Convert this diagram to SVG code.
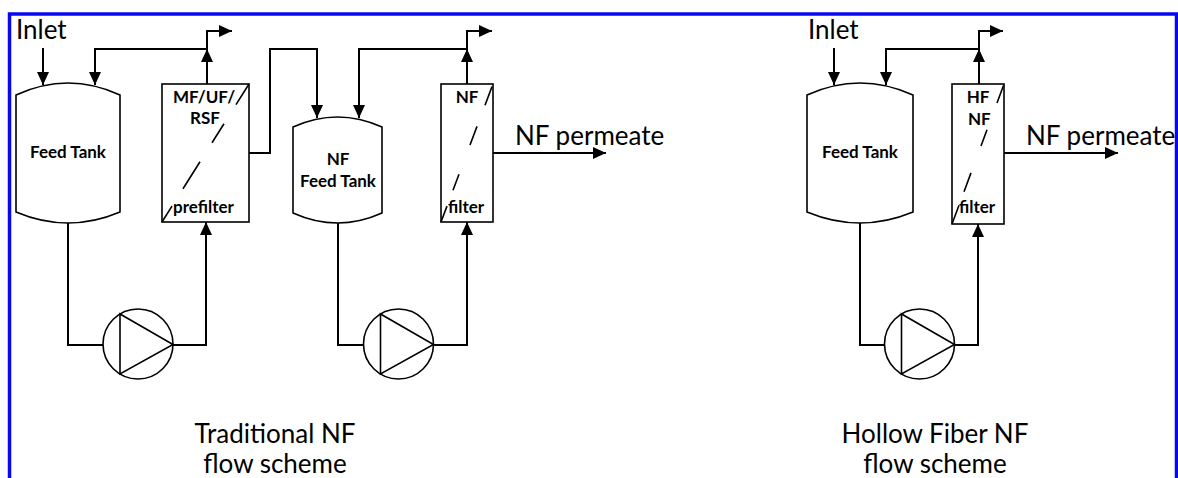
<svg xmlns="http://www.w3.org/2000/svg" width="1178" height="478" viewBox="0 0 1178 478">
<style>
.bg{fill:#fff}
.frame{fill:none;stroke:#0808f0;stroke-width:3.5}
.shape{fill:#fff;stroke:#000;stroke-width:1.6}
.mem{stroke:#000;stroke-width:1.6;fill:none}
.con{fill:none;stroke:#000;stroke-width:2}
.arr{marker-end:url(#ah)}
.big{font-family:Lato,"Open Sans",sans-serif;font-size:26px;fill:#000}
.lbl{font-family:Lato,"Open Sans",sans-serif;font-size:17px;font-weight:bold;fill:#000}
.mid{text-anchor:middle}
</style>
<defs>
<marker id="ah" markerWidth="13" markerHeight="12" refX="13" refY="6" orient="auto" markerUnits="userSpaceOnUse">
<path d="M0,0 L13,6 L0,12 z" fill="#000"/>
</marker>
</defs>
<rect class="bg" x="0" y="0" width="1178" height="478"/>
<rect class="frame" x="9.5" y="14" width="1167" height="500"/>

<g id="connectors">
<path class="con arr" d="M43,48 V85"/>
<path class="con arr" d="M207,49 H95 V85"/>
<path class="con arr" d="M207,84 V49"/>
<path class="con arr" d="M207,49 V31 H232"/>
<path class="con arr" d="M249,153 H270 V49 H317 V118"/>
<path class="con arr" d="M467,49 H359 V118"/>
<path class="con arr" d="M467,84 V49"/>
<path class="con arr" d="M467,49 V31 H492"/>
<path class="con arr" d="M493,153 H606"/>
<path class="con" d="M68,223 V345 H103"/>
<path class="con arr" d="M173,345 H206 V222"/>
<path class="con" d="M338,223 V345 H363.5"/>
<path class="con arr" d="M434,345 H467 V222"/>
<path class="con arr" d="M834,48 V85"/>
<path class="con arr" d="M979,49 H886 V85"/>
<path class="con arr" d="M979,84 V49"/>
<path class="con arr" d="M979,49 V31 H1003"/>
<path class="con arr" d="M1004,153 H1118"/>
<path class="con" d="M860,223 V345 H884.5"/>
<path class="con arr" d="M955,345 H978 V224"/>
</g>

<g id="feed-tank-1">
<path class="shape" d="M16,95 Q68,71 120,95 V212 Q68,234 16,212 Z"/>
<text class="lbl mid" x="68" y="158">Feed Tank</text>
</g>

<g id="mf-filter">
<rect class="shape" x="162" y="84" width="87" height="138"/>
<path class="mem" d="M162,222 L172,206.1 M183,188.7 L200,161.7 M212,142.7 L224,123.7 M236,104.6 L249,84"/>
<text class="lbl mid" x="204" y="103">MF/UF/</text>
<text class="lbl mid" x="205" y="124">RSF</text>
<text class="lbl" x="173" y="213">prefilter</text>
</g>

<g id="nf-feed-tank">
<path class="shape" d="M293,127 Q337.5,107 382,127 V213 Q337.5,233 293,213 Z"/>
<text class="lbl mid" x="338" y="165">NF</text>
<text class="lbl mid" x="338" y="187">Feed Tank</text>
</g>

<g id="nf-filter">
<rect class="shape" x="441" y="84" width="52" height="138"/>
<path class="mem" d="M441,222 L447,206.1 M453,190.2 L459,174.2 M470,145 L477,126.4 M485,105.2 L492,86.6"/>
<text class="lbl mid" x="467" y="103">NF</text>
<text class="lbl" x="448" y="213">filter</text>
</g>

<g id="pump-1">
<circle class="shape" cx="138" cy="344" r="35"/>
<path class="mem" d="M120,314 V374 L173,344.5 Z"/>
</g>

<g id="pump-2">
<circle class="shape" cx="398.5" cy="344" r="35"/>
<path class="mem" d="M380.5,314 V374 L433.5,344.5 Z"/>
</g>

<g id="hf-feed-tank">
<path class="shape" d="M807,95 Q860,71 913,95 V212 Q860,234 807,212 Z"/>
<text class="lbl mid" x="860" y="158">Feed Tank</text>
</g>

<g id="hf-nf-filter">
<rect class="shape" x="952" y="84" width="52" height="140"/>
<path class="mem" d="M952,224 L959,205.2 M964,191.7 L971,172.9 M981,146 L987,129.8 M997,103 L1003.5,85.5"/>
<text class="lbl mid" x="978" y="103">HF</text>
<text class="lbl" x="968" y="125">NF</text>
<text class="lbl" x="959" y="213">filter</text>
</g>

<g id="pump-3">
<circle class="shape" cx="919.5" cy="344" r="35"/>
<path class="mem" d="M901.5,314 V374 L954.5,344.5 Z"/>
</g>

<g id="labels">
<text class="big" x="16" y="39">Inlet</text>
<text class="big" x="808" y="39">Inlet</text>
<text class="big" x="515" y="145">NF permeate</text>
<text class="big" x="1026" y="145">NF permeate</text>
<text class="big mid" x="275" y="443">Traditional NF</text>
<text class="big mid" x="275" y="473">flow scheme</text>
<text class="big mid" x="935" y="443">Hollow Fiber NF</text>
<text class="big mid" x="935" y="473">flow scheme</text>
</g>
</svg>
